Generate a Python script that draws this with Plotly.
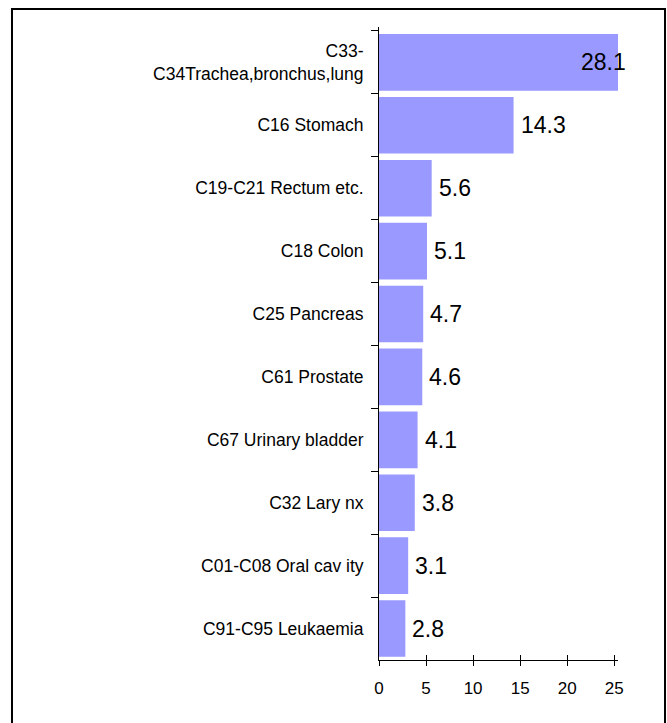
import plotly.graph_objects as go

categories = [
    "C33-<br>C34Trachea,bronchus,lung",
    "C16 Stomach",
    "C19-C21 Rectum etc.",
    "C18 Colon",
    "C25 Pancreas",
    "C61 Prostate",
    "C67 Urinary bladder",
    "C32 Lary nx",
    "C01-C08 Oral cav ity",
    "C91-C95 Leukaemia",
]
values = [28.1, 14.3, 5.6, 5.1, 4.7, 4.6, 4.1, 3.8, 3.1, 2.8]
x_ticks = [0, 5, 10, 15, 20, 25]
x_max = 25.4

FONT = "Arial, Liberation Sans, sans-serif"

fig = go.Figure()
fig.add_trace(go.Bar(
    x=values, y=categories, orientation="h",
    marker=dict(color="#9999FF", line=dict(width=0)),
    hoverinfo="x+y", showlegend=False,
))
# invisible trace to anchor the cross-tick overlay axis
fig.add_trace(go.Scatter(x=[0], y=[categories[0]], xaxis="x2", mode="markers",
                         marker=dict(opacity=0), showlegend=False, hoverinfo="skip"))

annotations = []
for c, v in zip(categories, values):
    if v > x_max:
        annotations.append(dict(x=x_max, y=c, text=str(v), showarrow=False,
                                xanchor="right", xshift=10,
                                font=dict(family=FONT, size=23, color="black")))
    else:
        annotations.append(dict(x=v, y=c, text=str(v), showarrow=False,
                                xanchor="left", xshift=5,
                                font=dict(family=FONT, size=23, color="black")))

fig.update_layout(
    width=667, height=723,
    margin=dict(l=379, r=49, t=27, b=63),
    paper_bgcolor="white", plot_bgcolor="white",
    bargap=0.1,
    font=dict(family=FONT, size=17, color="black"),
    annotations=annotations,
    xaxis=dict(range=[0, x_max], tickvals=x_ticks, ticks="outside", ticklen=5,
               tickcolor="black", showline=True, linecolor="black", linewidth=1,
               showgrid=False, zeroline=False, tickfont=dict(size=17),
               ticklabelstandoff=8, fixedrange=True),
    xaxis2=dict(overlaying="x", matches="x", anchor="y", side="bottom",
                range=[0, x_max], tickvals=x_ticks, ticks="inside", ticklen=5,
                tickcolor="black", showticklabels=False, showline=False,
                showgrid=False, zeroline=False),
    yaxis=dict(categoryorder="array", categoryarray=categories, autorange="reversed",
               ticks="outside", ticklen=7, tickcolor="black", tickson="boundaries",
               showline=True, linecolor="black", linewidth=1, showgrid=False,
               tickfont=dict(size=17.5), ticklabelstandoff=11),
    shapes=[dict(type="rect", xref="paper", yref="paper",
                 x0=-1.5356, x1=1.1967, y0=-0.12, y1=1.0284,
                 line=dict(color="black", width=2), layer="below")],
)

fig.write_html(
    "out.html",
    config={"displayModeBar": False},
    post_script="document.body.style.margin='0';document.body.style.overflow='hidden';",
)
